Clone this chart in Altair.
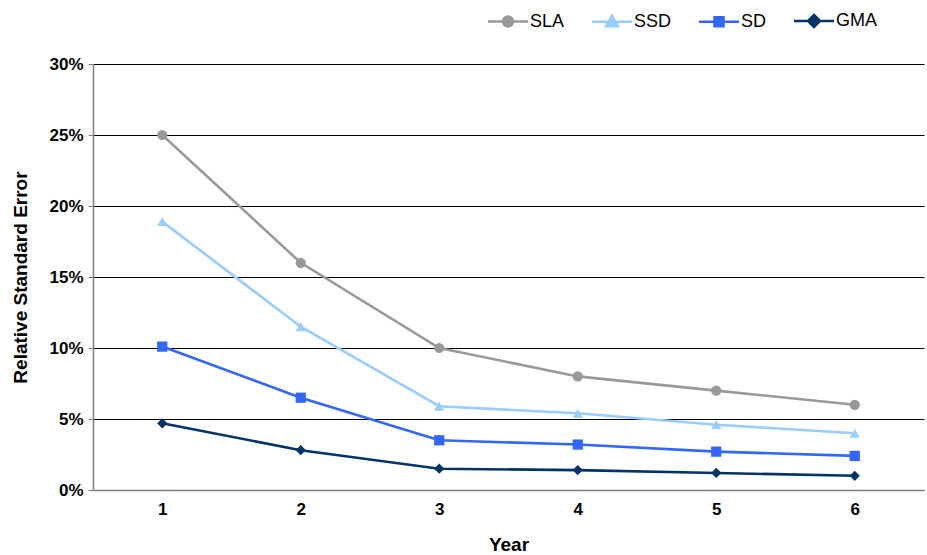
import altair as alt
import pandas as pd

years = [1, 2, 3, 4, 5, 6]
series_names = ["SLA", "SSD", "SD", "GMA"]
sla = [0.250, 0.160, 0.100, 0.080, 0.070, 0.060]
ssd = [0.189, 0.115, 0.059, 0.054, 0.046, 0.040]
sd = [0.101, 0.065, 0.035, 0.032, 0.027, 0.024]
gma = [0.047, 0.028, 0.015, 0.014, 0.012, 0.010]
colors = ["#999999", "#99CCFF", "#3366FF", "#003366"]
shapes = ["circle", "triangle-up", "square", "diamond"]
# legend symbols: a short line with the marker on it
legend_paths = [
    "M-4,0H4M1,0A1,1,0,1,1,-1,0A1,1,0,1,1,1,0Z",
    "M-4,0H4M0,-1.2L1.2,0.9L-1.2,0.9Z",
    "M-4,0H4M-0.9,-0.9H0.9V0.9H-0.9Z",
    "M-4,0H4M0,-1.2L1.2,0L0,1.2L-1.2,0Z",
]

rows = []
for name, vals in zip(series_names, [sla, ssd, sd, gma]):
    for y, v in zip(years, vals):
        rows.append({"Year": y, "Series": name, "Value": v})
df = pd.DataFrame(rows)

font = "Liberation Sans"
x_enc = alt.X("Year:O", title="Year",
              axis=alt.Axis(labelAngle=0, ticks=False, domainColor="#808080",
                            domainWidth=1.5, labelPadding=11, titlePadding=18,
                            titleFontSize=19, labelFontSize=17))
y_enc = alt.Y("Value:Q", title="Relative Standard Error",
              scale=alt.Scale(domain=[0, 0.30], nice=False),
              axis=alt.Axis(format=".0%", values=[0, 0.05, 0.10, 0.15, 0.20, 0.25, 0.30],
                            gridColor="#000000", gridWidth=1, domainColor="#808080",
                            domainWidth=1.5, tickColor="#808080", tickSize=5,
                            labelPadding=5, titlePadding=18,
                            titleFontSize=19, labelFontSize=17))
cscale = alt.Scale(domain=series_names, range=colors)

leg = alt.Legend(title=None, orient="none", direction="horizontal",
                 legendX=406, legendY=-52, padding=0, symbolSize=100,
                 symbolStrokeWidth=2.5, symbolOpacity=1, labelOffset=13, columnPadding=22,
                 labelFontSize=18, labelFont=font, labelColor="#000000")

base = alt.Chart(df)
lines = base.mark_line(strokeWidth=2.6).encode(
    x=x_enc, y=y_enc, color=alt.Color("Series:N", scale=cscale, legend=None))

point_layers = []
for name, shp in zip(series_names, shapes):
    point_layers.append(
        base.transform_filter(alt.datum.Series == name)
        .mark_point(filled=True, size=105, opacity=1, shape=shp)
        .encode(x=x_enc, y=y_enc, color=alt.Color("Series:N", scale=cscale, legend=None))
    )

legend_layer = base.mark_point(filled=True, opacity=0).encode(
    x=x_enc, y=y_enc,
    fill=alt.Fill("Series:N", scale=cscale, legend=leg),
    stroke=alt.Stroke("Series:N", scale=cscale, legend=leg),
    shape=alt.Shape("Series:N", scale=alt.Scale(domain=series_names, range=legend_paths),
                    legend=leg),
)

chart = alt.layer(legend_layer, lines, *point_layers).properties(
    width=831, height=426,
    autosize=alt.AutoSizeParams(type="none"),
    padding={"left": 93, "top": 64, "right": 3, "bottom": 65},
    background="white"
).configure_view(stroke=None).configure_axis(
    labelFont=font, titleFont=font,
    labelFontWeight="bold", titleFontWeight="bold", labelColor="#000000",
    titleColor="#000000"
)

chart.save("out.html", embed_options={"renderer": "svg", "actions": False})
